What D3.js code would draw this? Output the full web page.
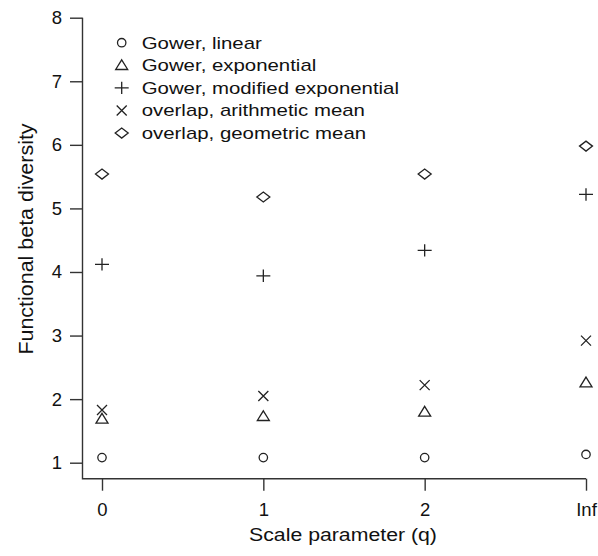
<!DOCTYPE html>
<html>
<head>
<meta charset="utf-8">
<script src="https://cdn.jsdelivr.net/npm/d3@7"></script>
<style>
  body { margin: 0; background: #fff; }
  text { font-family: "Liberation Sans", Arial, sans-serif; fill: #111; }
</style>
</head>
<body>
<div id="chart"></div>
<script>
// categories on the x axis
const scaleParams = ["0", "1", "2", "Inf"];

// one array per dissimilarity / averaging method
const gowerLinear = [1.08, 1.08, 1.08, 1.13];
const gowerExp = [1.69, 1.73, 1.8, 2.26];
const gowerModExp = [4.12, 3.94, 4.34, 5.22];
const overlapArith = [1.83, 2.05, 2.22, 2.92];
const overlapGeom = [5.54, 5.18, 5.54, 5.98];

const seriesNames = [
  "Gower, linear",
  "Gower, exponential",
  "Gower, modified exponential",
  "overlap, arithmetic mean",
  "overlap, geometric mean",
];
const yTicks = [1, 2, 3, 4, 5, 6, 7, 8];

const width = 598;
const height = 556;

// marker paths, drawn around (0,0)
const shapes = {
  circle: () => d3.arc()({ innerRadius: 0, outerRadius: 4.2, startAngle: 0, endAngle: 2 * Math.PI }),
  triangle: () => "M0,-5.5L6,4.2L-6,4.2Z",
  plus: () => "M-7,0L7,0M0,-6.2L0,6.2",
  cross: () => "M-5,-5L5,5M-5,5L5,-5",
  diamond: () => "M-6.5,0L0,-5L6.5,0L0,5Z",
};

const series = [
  { name: seriesNames[0], shape: "circle", values: gowerLinear },
  { name: seriesNames[1], shape: "triangle", values: gowerExp },
  { name: seriesNames[2], shape: "plus", values: gowerModExp },
  { name: seriesNames[3], shape: "cross", values: overlapArith },
  { name: seriesNames[4], shape: "diamond", values: overlapGeom },
];

const svg = d3
  .select("#chart")
  .append("svg")
  .attr("width", width)
  .attr("height", height);

const x = d3.scalePoint().domain(scaleParams).range([102, 586]).padding(0);
const y = d3.scaleLinear().domain([1, 8]).range([462.7, 17.7]);

const axisLeftX = 82.5;
const axisBottomY = 478.7;

// L-shaped frame
svg
  .append("path")
  .attr("d", `M${axisLeftX},${y(8)}L${axisLeftX},${axisBottomY}L${x("Inf")},${axisBottomY}`)
  .attr("fill", "none")
  .attr("stroke", "#333")
  .attr("stroke-width", 1.4);

const yAxis = svg
  .append("g")
  .attr("transform", `translate(${axisLeftX},0)`)
  .call(d3.axisLeft(y).tickValues(yTicks).tickSize(12.5).tickPadding(8).tickFormat(d3.format("d")));

const xAxis = svg
  .append("g")
  .attr("transform", `translate(0,${axisBottomY})`)
  .call(d3.axisBottom(x).tickSize(12).tickPadding(12));

[yAxis, xAxis].forEach((g) => {
  g.select(".domain").remove();
  g.selectAll(".tick line").attr("stroke", "#333").attr("stroke-width", 1.4);
  g.selectAll(".tick text")
    .style("font-family", '"Liberation Sans", Arial, sans-serif')
    .style("font-size", "18.5px")
    .attr("fill", "#111");
});

// axis titles (source text is a little wider than Arial)
svg
  .append("text")
  .attr("transform", "translate(343,541) scale(1.15,1)")
  .attr("text-anchor", "middle")
  .style("font-size", "18.5px")
  .text("Scale parameter (q)");

svg
  .append("text")
  .attr("transform", "translate(33,239) rotate(-90) scale(1.1,1)")
  .attr("text-anchor", "middle")
  .style("font-size", "19.5px")
  .text("Functional beta diversity");

// points
series.forEach((s) => {
  svg
    .append("g")
    .selectAll("path")
    .data(s.values)
    .enter()
    .append("path")
    .attr("transform", (d, i) => `translate(${x(scaleParams[i])},${y(d)})`)
    .attr("d", shapes[s.shape]())
    .attr("fill", "none")
    .attr("stroke", "#222")
    .attr("stroke-width", 1.3);
});

// legend
const legend = svg.append("g").attr("transform", "translate(121.7,42.7)");
const rows = legend
  .selectAll("g")
  .data(series)
  .enter()
  .append("g")
  .attr("transform", (d, i) => `translate(0,${i * 22.6})`);

rows
  .append("path")
  .attr("d", (d) => shapes[d.shape]())
  .attr("fill", "none")
  .attr("stroke", "#222")
  .attr("stroke-width", 1.3);

rows
  .append("text")
  .attr("transform", "translate(20,5.8) scale(1.26,1)")
  .style("font-size", "16.2px")
  .text((d) => d.name);
</script>
</body>
</html>
